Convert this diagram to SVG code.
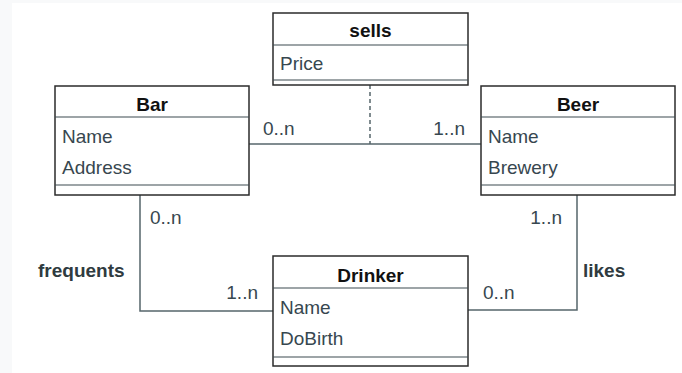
<svg xmlns="http://www.w3.org/2000/svg" width="682" height="373" viewBox="0 0 682 373">
  <style>
    .box { fill: #ffffff; stroke: #2b2b2b; stroke-width: 1.5; }
    .div { stroke: #3c4a50; stroke-width: 1.2; fill: none; }
    .title { font-family: "Liberation Sans", Arial, sans-serif; font-size: 19px; font-weight: bold; fill: #111111; text-anchor: middle; }
    .attr { font-family: "Liberation Sans", Arial, sans-serif; font-size: 19px; fill: #37474f; }
    .mult { font-family: "Liberation Sans", Arial, sans-serif; font-size: 19px; fill: #37474f; }
    .role { font-family: "Liberation Sans", Arial, sans-serif; font-size: 19px; font-weight: bold; fill: #2f3b40; }
    .link { stroke: #56666b; stroke-width: 1.5; fill: none; }
    .dash { stroke: #56666b; stroke-width: 1.5; fill: none; stroke-dasharray: 4 3; }
  </style>

  <!-- canvas -->
  <rect x="0" y="0" width="682" height="373" fill="#f8f9fa"/>
  <rect x="12" y="3" width="670" height="370" fill="#ffffff"/>

  <!-- connectors -->
  <g id="connectors">
    <line class="link" x1="249" y1="144" x2="481" y2="144"/>
    <line class="dash" x1="370" y1="85" x2="370" y2="144"/>
    <polyline class="link" points="140,195 140,311 273,311"/>
    <polyline class="link" points="468,310 577,310 577,195"/>
    <text class="mult" x="263" y="135">0..n</text>
    <text class="mult" x="465" y="135" text-anchor="end">1..n</text>
    <text class="mult" x="150" y="224">0..n</text>
    <text class="role" x="38" y="277">frequents</text>
    <text class="mult" x="258" y="299" text-anchor="end">1..n</text>
    <text class="mult" x="483" y="299">0..n</text>
    <text class="mult" x="562" y="224" text-anchor="end">1..n</text>
    <text class="role" x="583" y="277">likes</text>
  </g>

  <!-- association class -->
  <g id="sells">
    <rect class="box" x="273" y="13" width="195" height="72"/>
    <line class="div" x1="273" y1="45" x2="468" y2="45"/>
    <line class="div" x1="273" y1="80" x2="468" y2="80"/>
    <text class="title" x="370.5" y="37">sells</text>
    <text class="attr" x="280" y="70">Price</text>
  </g>

  <g id="bar">
    <rect class="box" x="55" y="86" width="194" height="109"/>
    <line class="div" x1="55" y1="117" x2="249" y2="117"/>
    <line class="div" x1="55" y1="185" x2="249" y2="185"/>
    <text class="title" x="152" y="111">Bar</text>
    <text class="attr" x="62" y="143">Name</text>
    <text class="attr" x="62" y="174">Address</text>
  </g>

  <g id="beer">
    <rect class="box" x="481" y="86" width="194" height="109"/>
    <line class="div" x1="481" y1="117" x2="675" y2="117"/>
    <line class="div" x1="481" y1="185" x2="675" y2="185"/>
    <text class="title" x="578" y="111">Beer</text>
    <text class="attr" x="488" y="143">Name</text>
    <text class="attr" x="488" y="174">Brewery</text>
  </g>

  <g id="drinker">
    <rect class="box" x="273" y="256" width="195" height="110"/>
    <line class="div" x1="273" y1="288" x2="468" y2="288"/>
    <line class="div" x1="273" y1="357" x2="468" y2="357"/>
    <text class="title" x="370.5" y="282">Drinker</text>
    <text class="attr" x="280" y="314">Name</text>
    <text class="attr" x="280" y="345">DoBirth</text>
  </g>
</svg>
